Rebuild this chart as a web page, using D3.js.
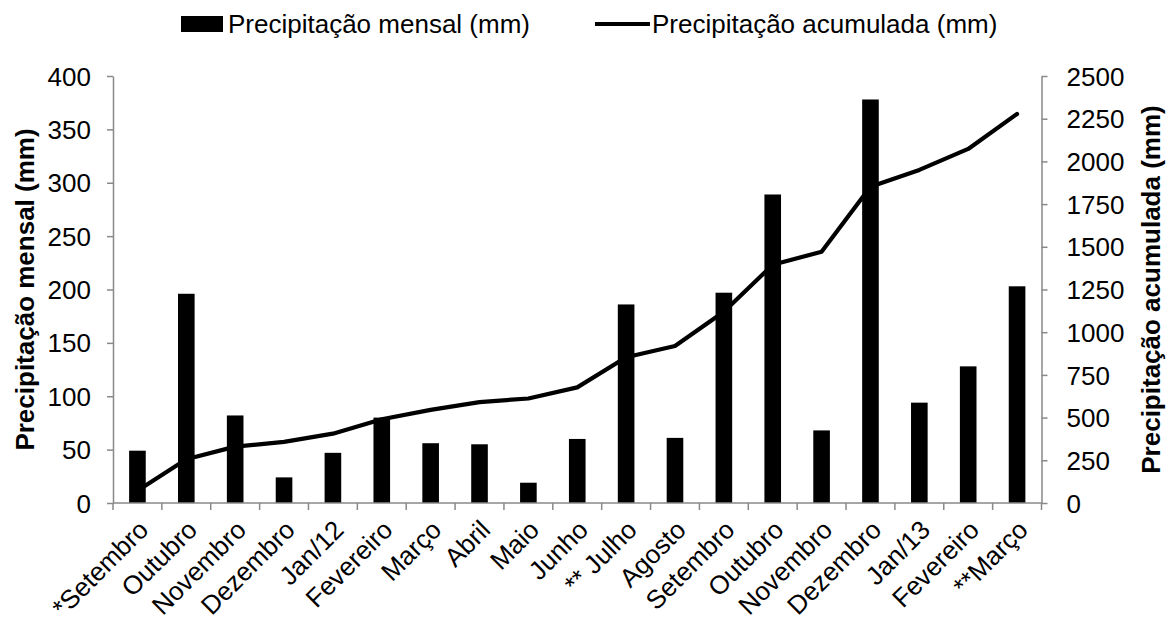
<!DOCTYPE html>
<html>
<head>
<meta charset="utf-8">
<script src="https://cdn.jsdelivr.net/npm/d3@7"></script>
<style>
  html, body { margin: 0; padding: 0; background: #fff; }
  svg { display: block; font-family: "Liberation Sans", Arial, sans-serif; }
</style>
</head>
<body>
<svg id="chart" width="1170" height="624"></svg>
<script>
// Monthly and cumulative rainfall, Sep/2011 – Mar/2013
const months = ["*Setembro", "Outubro", "Novembro", "Dezembro", "Jan/12", "Fevereiro", "Março",
  "Abril", "Maio", "Junho", "** Julho", "Agosto", "Setembro", "Outubro", "Novembro",
  "Dezembro", "Jan/13", "Fevereiro", "**Março"];
const monthlyRain = [49, 196, 82, 24, 47, 80, 56, 55, 19, 60, 186, 61, 197, 289, 68, 378, 94, 128, 203];
const cumulativeRain = [72, 256, 330, 358, 406, 490, 545, 591, 612, 677, 853, 919, 1120, 1395,
  1471, 1852, 1950, 2073, 2278];
const leftTicks = [0, 50, 100, 150, 200, 250, 300, 350, 400];
const rightTicks = [0, 250, 500, 750, 1000, 1250, 1500, 1750, 2000, 2250, 2500];
const seriesNames = ["Precipitação mensal (mm)", "Precipitação acumulada (mm)"];
const leftTitle = "Precipitação mensal (mm)";
const rightTitle = "Precipitação acumulada (mm)";

const svg = d3.select("#chart");
const plot = { left: 113, right: 1041.5, top: 76, bottom: 503 };
const axisColor = "#898989";
const fontSize = 26;

// Month names repeat across the two seasons, so the band scale is keyed by position
const idx = d3.range(months.length);
const x = d3.scaleBand().domain(idx).range([plot.left, plot.right]).paddingInner(0).paddingOuter(0);
const cx = i => x(i) + x.bandwidth() / 2;
const yLeft = d3.scaleLinear().domain([0, 400]).range([plot.bottom, plot.top]);
const yRight = d3.scaleLinear().domain([0, 2500]).range([plot.bottom, plot.top]);

// Bars
const barW = x.bandwidth() * 0.34;
svg.append("g").selectAll("rect").data(monthlyRain).join("rect")
  .attr("x", (d, i) => cx(i) - barW / 2)
  .attr("y", d => yLeft(d))
  .attr("width", barW)
  .attr("height", d => yLeft(0) - yLeft(d))
  .attr("fill", "#000");

// Cumulative line
const line = d3.line()
  .x((d, i) => cx(i))
  .y(d => yRight(d));
svg.append("path").datum(cumulativeRain)
  .attr("d", line)
  .attr("fill", "none")
  .attr("stroke", "#000")
  .attr("stroke-width", 4.2)
  .attr("stroke-linejoin", "round")
  .attr("stroke-linecap", "round");

function styleAxis(g) {
  g.selectAll(".domain").attr("stroke", axisColor).attr("stroke-width", 1.5);
  g.selectAll(".tick line").attr("stroke", axisColor).attr("stroke-width", 1.5);
  g.selectAll("text").attr("fill", "#000")
    .style("font-size", fontSize + "px")
    .style("font-family", "'Liberation Sans', Arial, sans-serif");
}

// Left axis
const gLeft = svg.append("g").attr("transform", `translate(${plot.left},0)`)
  .call(d3.axisLeft(yLeft).tickValues(leftTicks).tickSize(6).tickPadding(16).tickSizeOuter(0));
styleAxis(gLeft);
gLeft.selectAll("text").attr("dy", "0.35em");

// Right axis (plain integers, no thousands separator)
const gRight = svg.append("g").attr("transform", `translate(${plot.right},0)`)
  .call(d3.axisRight(yRight).tickValues(rightTicks).tickFormat(d3.format("d"))
    .tickSize(6).tickPadding(19).tickSizeOuter(0));
styleAxis(gRight);
gRight.selectAll("text").attr("dy", "0.35em");

// Bottom axis: ticks at category boundaries, labels slanted 45°
const gBottom = svg.append("g");
gBottom.append("line")
  .attr("x1", plot.left).attr("x2", plot.right)
  .attr("y1", plot.bottom).attr("y2", plot.bottom)
  .attr("stroke", axisColor).attr("stroke-width", 1.5);
const boundaries = idx.map(i => x(i)).concat([x.range()[1]]);
gBottom.selectAll("line.tk").data(boundaries).join("line")
  .attr("class", "tk")
  .attr("x1", d => d).attr("x2", d => d)
  .attr("y1", plot.bottom).attr("y2", plot.bottom + 7)
  .attr("stroke", axisColor).attr("stroke-width", 1.5);
const c45 = Math.SQRT1_2;
gBottom.selectAll("g.lbl").data(idx).join("g")
  .attr("class", "lbl")
  .attr("transform", i => `matrix(${c45},${-c45},${c45},${c45},${cx(i) + 6},${plot.bottom + 22})`)
  .append("text")
  .attr("text-anchor", "end")
  .attr("dy", "0.35em")
  .style("font-size", fontSize + "px")
  .attr("fill", "#000")
  .text(i => months[i]);

// Axis titles
svg.append("text")
  .attr("transform", `translate(34,${(plot.top + plot.bottom) / 2}) rotate(-90)`)
  .attr("text-anchor", "middle")
  .style("font-size", fontSize + "px")
  .style("font-weight", "bold")
  .text(leftTitle);
svg.append("text")
  .attr("transform", `translate(1160,${(plot.top + plot.bottom) / 2}) rotate(-90)`)
  .attr("text-anchor", "middle")
  .style("font-size", fontSize + "px")
  .style("font-weight", "bold")
  .text(rightTitle);

// Legend
const legend = svg.append("g");
legend.append("rect").attr("x", 181).attr("y", 16).attr("width", 42).attr("height", 16).attr("fill", "#000");
legend.append("text").attr("x", 228).attr("y", 24).attr("dy", "0.35em")
  .style("font-size", fontSize + "px").text(seriesNames[0]);
legend.append("line").attr("x1", 595).attr("x2", 650).attr("y1", 24).attr("y2", 24)
  .attr("stroke", "#000").attr("stroke-width", 4.2);
legend.append("text").attr("x", 652).attr("y", 24).attr("dy", "0.35em")
  .style("font-size", fontSize + "px").text(seriesNames[1]);
</script>
</body>
</html>
